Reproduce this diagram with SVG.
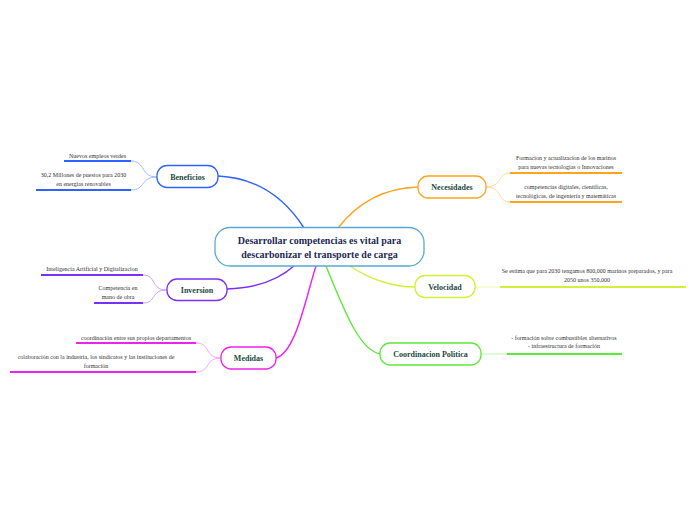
<svg xmlns="http://www.w3.org/2000/svg" width="696" height="520" viewBox="0 0 696 520">
<style>
.bg{fill:#ffffff}
.main{fill:#ffffff;stroke-width:1.3}
.nt{font-family:"Liberation Serif",serif;font-weight:bold;font-size:8px;fill:#1c4a3c;text-anchor:middle}
.ct{font-family:"Liberation Serif",serif;font-weight:bold;font-size:10px;fill:#1c2a55;text-anchor:middle}
.st{font-family:"Liberation Serif",serif;font-size:6px;fill:#333333;text-anchor:middle}
.c{fill:none;stroke-width:1.4}
.s{fill:none;stroke-width:0.8}
.u{fill:none;stroke-width:2}
</style>
<rect class="bg" x="0" y="0" width="696" height="520"/>
<g id="connectors">
  <path class="c" stroke="#2f62ff" d="M218,176 C262,178 288,203 304,228"/>
  <path class="c" stroke="#ffa41f" d="M338,228 C358,202 385,188 418,187"/>
  <path class="c" stroke="#7b2ff7" d="M227,289 C260,288 282,277 295,265"/>
  <path class="c" stroke="#ee22ee" d="M276,358 C296,352 305,300 316,266"/>
  <path class="c" stroke="#5ee83a" d="M326,266 C344,310 360,352 381,354"/>
  <path class="c" stroke="#d2f03a" d="M350,266 C370,280 395,287 415,287"/>
  <path class="s" stroke="#8aa8ff" d="M157,177 C140,177 146,161 131,161"/>
  <path class="s" stroke="#8aa8ff" d="M157,177 C140,177 146,190 131,190"/>
  <path class="s" stroke="#b28cfa" d="M167,290 C150,290 157,275 143,275"/>
  <path class="s" stroke="#b28cfa" d="M167,290 C150,290 157,303 143,303"/>
  <path class="s" stroke="#f78df7" d="M221,358 C204,358 211,343 196,343"/>
  <path class="s" stroke="#f78df7" d="M221,358 C204,358 211,372 196,372"/>
  <path class="s" stroke="#ffcd85" d="M486,187 C503,187 497,173 510,173"/>
  <path class="s" stroke="#ffcd85" d="M486,187 C503,187 497,202 510,202"/>
  <path class="s" stroke="#e6f79a" d="M475,287 L500,287"/>
  <path class="s" stroke="#a8f390" d="M481,354 L507,354"/>
</g>
<g id="central">
  <rect class="main" x="215" y="227.5" width="209" height="38.5" rx="15" stroke="#5aa6d8"/>
  <text class="ct" x="319.5" y="244">Desarrollar competencias es vital para</text>
  <text class="ct" x="319.5" y="258">descarbonizar el transporte de carga</text>
</g>
<g id="beneficios">
  <rect class="main" x="157" y="165.5" width="61" height="22" rx="10" stroke="#2f62ff"/>
  <text class="nt" x="187.5" y="179.5">Beneficios</text>
</g>
<g id="b1">
  <text class="st" x="97.5" y="157.5">Nuevos empleos verdes</text>
  <line class="u" stroke="#2f62ff" x1="64" y1="161" x2="131" y2="161"/>
</g>
<g id="b2">
  <text class="st" x="83.5" y="177">30,2 Millones de puestos para 2030</text>
  <text class="st" x="83.5" y="186">en energias renovables</text>
  <line class="u" stroke="#2f62ff" x1="36" y1="190" x2="131" y2="190"/>
</g>
<g id="inversion">
  <rect class="main" x="167" y="279" width="60" height="21.5" rx="10" stroke="#7b2ff7"/>
  <text class="nt" x="197" y="292.5">Inversion</text>
</g>
<g id="i1">
  <text class="st" x="92" y="270.5">Inteligencia Artificial y Digitalizacion</text>
  <line class="u" stroke="#7b2ff7" x1="41" y1="275" x2="143" y2="275"/>
</g>
<g id="i2">
  <text class="st" x="118" y="290">Competencia en</text>
  <text class="st" x="118" y="299">mano de obra</text>
  <line class="u" stroke="#7b2ff7" x1="94" y1="303" x2="143" y2="303"/>
</g>
<g id="medidas">
  <rect class="main" x="221" y="347" width="55" height="22" rx="10" stroke="#ee22ee"/>
  <text class="nt" x="248.5" y="361">Medidas</text>
</g>
<g id="m1">
  <text class="st" x="136" y="339.5">coordinación entre sus propios departamentos</text>
  <line class="u" stroke="#ee22ee" x1="76" y1="343" x2="196" y2="343"/>
</g>
<g id="m2">
  <text class="st" x="96" y="358.5">colaboración con la industria, los sindicatos y las instituciones de</text>
  <text class="st" x="96" y="367.5">formación</text>
  <line class="u" stroke="#ee22ee" x1="10" y1="372" x2="196" y2="372"/>
</g>
<g id="necesidades">
  <rect class="main" x="418" y="176" width="68" height="22" rx="10" stroke="#ffa41f"/>
  <text class="nt" x="452" y="190">Necesidades</text>
</g>
<g id="n1">
  <text class="st" x="566" y="159.5">Formacion y actualizacion de los marinos</text>
  <text class="st" x="566" y="168.5">para nuevas tecnologias o Innovaciones</text>
  <line class="u" stroke="#ffa41f" x1="510" y1="173" x2="622" y2="173"/>
</g>
<g id="n2">
  <text class="st" x="566" y="188.5">competencias digitales, científicas,</text>
  <text class="st" x="566" y="198">tecnológicas, de ingeniería y matemáticas</text>
  <line class="u" stroke="#ffa41f" x1="510" y1="202" x2="622" y2="202"/>
</g>
<g id="velocidad">
  <rect class="main" x="415" y="275.5" width="60" height="22" rx="10" stroke="#d2f03a"/>
  <text class="nt" x="445" y="289.5">Velocidad</text>
</g>
<g id="v1">
  <text class="st" x="587" y="273">Se estima que para 2030 tengamos 800,000 marinos preparados, y para</text>
  <text class="st" x="587" y="282">2050 unos 350,000</text>
  <line class="u" stroke="#d2f03a" x1="500" y1="287" x2="686" y2="287"/>
</g>
<g id="coordinacion">
  <rect class="main" x="380" y="343" width="101" height="22" rx="10" stroke="#5ee83a"/>
  <text class="nt" x="430.5" y="357">Coordinacion Politica</text>
</g>
<g id="c1">
  <text class="st" x="564" y="340">- formación sobre combustibles alternativos</text>
  <text class="st" x="564" y="348">- infraestructura de formación</text>
  <line class="u" stroke="#5ee83a" x1="507" y1="354" x2="622" y2="354"/>
</g>
</svg>
